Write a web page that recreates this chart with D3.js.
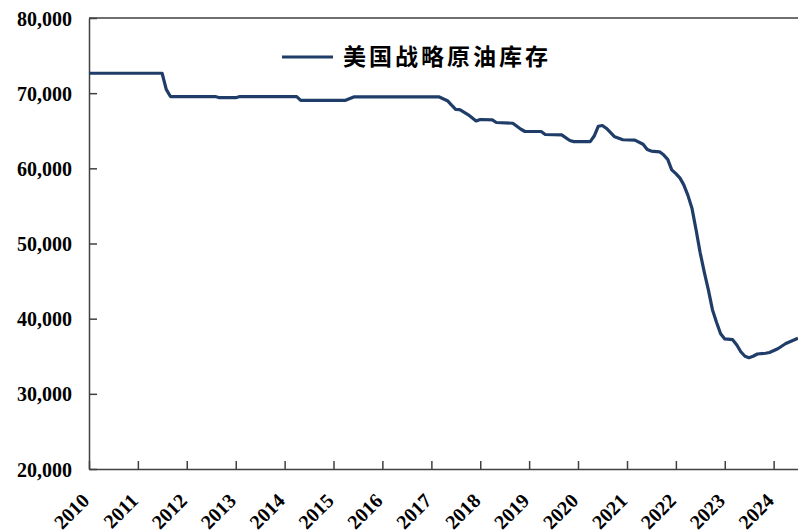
<!DOCTYPE html>
<meta charset="utf-8">
<style>
body { margin: 0; background: #fff; }
.tick-label { font: bold 20px "Liberation Serif", "Times New Roman", serif; fill: #000; }
.legend-label { font: bold 23px "Noto Sans CJK SC", sans-serif; letter-spacing: 3px; fill: #000; }
</style>
<body></body>
<script src="https://cdn.jsdelivr.net/npm/d3@7/dist/d3.min.js"></script>
<script>
// SPR stocks, 万桶
const months = [
    '2010-01', '2011-07', '2011-08', '2011-09', '2012-08', '2012-09', '2013-01', '2013-02',
    '2014-04', '2014-05', '2015-04', '2015-06', '2017-03', '2017-05', '2017-06', '2017-07',
    '2017-08', '2017-10', '2017-12', '2018-01', '2018-04', '2018-05', '2018-09', '2018-11',
    '2018-12', '2019-04', '2019-05', '2019-09', '2019-11', '2019-12', '2020-04', '2020-05',
    '2020-06', '2020-07', '2020-08', '2020-10', '2020-12', '2021-03', '2021-05', '2021-06',
    '2021-07', '2021-09', '2021-10', '2021-11', '2021-12', '2022-01', '2022-02', '2022-03',
    '2022-04', '2022-05', '2022-06', '2022-07', '2022-08', '2022-09', '2022-10', '2022-11',
    '2022-12', '2023-01', '2023-03', '2023-04', '2023-05', '2023-06', '2023-07', '2023-08',
    '2023-09', '2023-11', '2023-12', '2024-02', '2024-04', '2024-07'
]
const stocks = [
    72650, 72650, 70500, 69550, 69550, 69400, 69400, 69550,
    69550, 69050, 69050, 69500, 69500, 69000, 68400, 67850,
    67800, 67150, 66300, 66500, 66450, 66100, 66000, 65200,
    64900, 64900, 64500, 64450, 63700, 63550, 63550, 64300,
    65600, 65700, 65300, 64200, 63800, 63750, 63200, 62500,
    62300, 62200, 61800, 61200, 59800, 59300, 58700, 57800,
    56400, 54700, 51800, 48800, 46200, 43800, 41200, 39500,
    38000, 37300, 37200, 36500, 35600, 35000, 34800, 35000,
    35300, 35400, 35500, 36000, 36700, 37400
]
const yearTicks = d3.range(2010, 2025)
const yTicks = [20000, 30000, 40000, 50000, 60000, 70000, 80000]
const seriesName = '美国战略原油库存'

const width = 798
const height = 532
const margins = { top: 18, right: 0, bottom: 63, left: 89 }

const parseMonth = d3.timeParse('%Y-%m')
const data = months.map((m, i) => ({ date: parseMonth(m), value: stocks[i] }))

const svg = d3.select('body')
    .append('svg')
        .attr('width', width)
        .attr('height', height)

const xScale = d3.scaleTime()
    .domain([new Date(2010, 0, 1), new Date(2024, 6, 1)])
    .range([margins.left, width - margins.right])

const yScale = d3.scaleLinear()
    .domain([20000, 80000])
    .range([height - margins.bottom, margins.top])

const axisColor = '#404040'

// x axis, ticks pointing up into the plot
const xAxis = svg.append('g')
    .attr('transform', `translate(0, ${height - margins.bottom})`)
    .call(d3.axisBottom(xScale)
        .tickValues(yearTicks.map(y => new Date(y, 0, 1)))
        .tickSize(-8)
        .tickSizeOuter(0)
        .tickFormat(d3.timeFormat('%Y')))
xAxis.select('.domain').attr('stroke', axisColor).attr('stroke-width', 1.5)
xAxis.selectAll('.tick line').attr('stroke', axisColor).attr('stroke-width', 1.5)
xAxis.selectAll('.tick text')
    .attr('class', 'tick-label')
    .attr('text-anchor', 'end')
    .attr('x', 0)
    .attr('y', 0)
    .attr('dy', 0)
    .attr('transform', 'translate(1, 33) rotate(-45)')

// y axis, ticks pointing right
const yAxis = svg.append('g')
    .attr('transform', `translate(${margins.left}, 0)`)
    .call(d3.axisLeft(yScale)
        .tickValues(yTicks)
        .tickSize(-8)
        .tickSizeOuter(0)
        .tickPadding(17)
        .tickFormat(d3.format(',')))
yAxis.select('.domain').attr('stroke', axisColor).attr('stroke-width', 1.5)
yAxis.selectAll('.tick line').attr('stroke', axisColor).attr('stroke-width', 1.5)
yAxis.selectAll('.tick text').attr('class', 'tick-label').attr('dy', '0.35em')

// top border
svg.append('line')
    .attr('x1', margins.left)
    .attr('x2', width)
    .attr('y1', yScale(80000))
    .attr('y2', yScale(80000))
    .attr('stroke', axisColor)
    .attr('stroke-width', 1.5)

const lineColor = '#1f3d68'

const line = d3.line()
    .x(d => xScale(d.date))
    .y(d => yScale(d.value))

svg.append('path')
    .datum(data)
    .attr('fill', 'none')
    .attr('stroke', lineColor)
    .attr('stroke-width', 3.2)
    .attr('stroke-linejoin', 'round')
    .attr('d', line)

// legend
const legend = svg.append('g').attr('transform', 'translate(282, 57)')
legend.append('line')
    .attr('x1', 0)
    .attr('x2', 51)
    .attr('stroke', lineColor)
    .attr('stroke-width', 3)
legend.append('text')
    .attr('class', 'legend-label')
    .attr('x', 61)
    .attr('dy', '0.35em')
    .text(seriesName)
</script>
